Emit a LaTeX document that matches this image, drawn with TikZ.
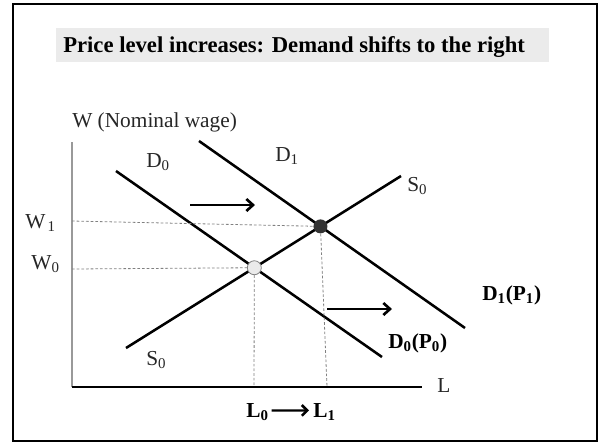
\documentclass[tikz,border=0pt]{standalone}
\usepackage{fontspec}
\setmainfont{Liberation Serif}
\usetikzlibrary{arrows.meta}

\begin{document}
\begin{tikzpicture}[x=0.75pt,y=-0.75pt,
  curve/.style={line width=1.9pt},
  guide/.style={gray,line width=0.6pt,dash pattern=on 2pt off 1.5pt},
  shiftarrow/.style={line width=1.9pt,-{Straight Barb[length=5pt,width=9pt,line width=2pt]}},
  lab/.style={font=\fontsize{16}{18}\selectfont,text=black!85,inner sep=0pt},
  blab/.style={font=\fontsize{16}{18}\selectfont\bfseries,inner sep=0pt},
  eqpoint/.style={circle,inner sep=0pt,minimum size=10.5pt}]

  \useasboundingbox (0,0) rectangle (602,444);

  % Outer frame
  \draw[line width=1.5pt] (13,4) rectangle (597,441);

  % Title bar
  \fill[black!8] (56,28) rectangle (549,62);
  \node[blab,font=\fontsize{17}{20}\selectfont\bfseries,anchor=base west] (title) at (63,52) {Price level increases: Demand shifts to the right};

  % Axes
  \coordinate (origin) at (72,387);
  \coordinate (ytop) at (72,142);
  \coordinate (xend) at (422,387);
  \draw[gray!80,line width=0.9pt] (origin) -- (ytop);
  \draw[line width=1.2pt] (origin) -- (xend);
  \node[lab,anchor=base west] (wlab) at (72,127) {W (Nominal wage)};
  \node[lab,anchor=base west] (llab) at (437,392) {L};

  % Supply and demand curves
  \coordinate (d0a) at (116,171);
  \coordinate (d0b) at (382,357);
  \coordinate (d1a) at (199,141);
  \coordinate (d1b) at (465,328);
  \coordinate (s0a) at (126,348);
  \coordinate (s0b) at (401,176);
  \draw[curve] (d0a) -- (d0b);
  \draw[curve] (d1a) -- (d1b);
  \draw[curve] (s0a) -- (s0b);

  % Curve labels
  \node[lab,anchor=base west] (d0lab) at (146,167) {D\textsubscript{0}};
  \node[lab,anchor=base west] (d1lab) at (275,161) {D\textsubscript{1}};
  \node[lab,anchor=base west] (s0top) at (407,191) {S\textsubscript{0}};
  \node[lab,anchor=base west] (s0bot) at (146,365) {S\textsubscript{0}};
  \node[blab,anchor=base west] (d1p1) at (482,300) {D\textsubscript{1}(P\textsubscript{1})};
  \node[blab,anchor=base west] (d0p0) at (388,348) {D\textsubscript{0}(P\textsubscript{0})};

  % Equilibrium points
  \node[eqpoint,fill=black!8,draw=gray,line width=0.6pt] (e0) at (intersection of d0a--d0b and s0a--s0b) {};
  \node[eqpoint,fill=black!80] (e1) at (intersection of d1a--d1b and s0a--s0b) {};

  % Guide lines to the axes
  \coordinate (w0) at (72,269);
  \coordinate (w1) at (72,221);
  \coordinate (l0) at (254,387);
  \coordinate (l1) at (327,387);
  \draw[guide] (w0) -- (e0);
  \draw[guide] (w1) -- (e1);
  \draw[guide] (e0) -- (l0);
  \draw[guide] (e1) -- (l1);
  \node[lab,anchor=base east] (w0lab) at (60,269) {W\textsubscript{0}};
  \node[lab,anchor=base east] (w1lab) at (56,228) {W\kern1.5pt\textsubscript{1}};

  % Shift arrows
  \coordinate (upa) at (190,205);
  \coordinate (upb) at (255,205);
  \coordinate (lowa) at (327,309);
  \coordinate (lowb) at (392,309);
  \draw[shiftarrow] (upa) -- (upb);
  \draw[shiftarrow] (lowa) -- (lowb);

  % Employment change
  \node[blab,anchor=base west] (lzero) at (246,417) {L\textsubscript{0}};
  \node[blab,anchor=base west] (lone) at (313,417) {L\textsubscript{1}};
  \draw[line width=1.7pt,-{Straight Barb[length=4pt,width=8pt,line width=1.9pt]}] ([xshift=2pt,yshift=1pt]lzero.east) -- ([xshift=-3pt,yshift=1pt]lone.west);

\end{tikzpicture}
\end{document}
